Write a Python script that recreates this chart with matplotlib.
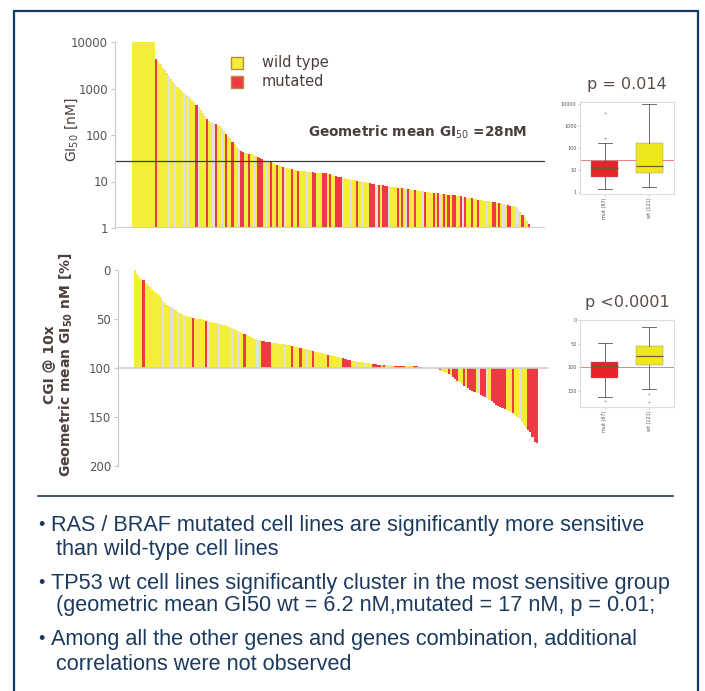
import matplotlib
matplotlib.use("Agg")
import matplotlib.pyplot as plt
from matplotlib.patches import Rectangle
import numpy as np

W, H = 705, 691

# GI50 [nM] per cell line, sorted (read from the waterfall)
gi50 = [10000, 10000, 10000, 10000, 10000, 10000, 10000, 10000, 10000, 10000, 10000,
        4300, 3900, 3300, 2800, 2500, 2200, 1900, 1600, 1400, 1250, 1100, 980, 880,
        800, 730, 680, 620, 560, 500, 440, 400, 350, 300, 260, 220, 200, 190, 180, 170,
        165, 160, 140, 120, 105, 95, 85, 72, 64, 56, 50, 45, 43, 42, 41, 40, 39, 37, 35,
        34, 32, 30, 29, 28, 27, 26, 25, 24, 23, 22.5, 22, 21, 20, 19.5, 19, 18.5, 18,
        17.5, 17.2, 17, 16.8, 16.6, 16.4, 16.2, 16.0, 15.8, 15.6, 15.4, 15.3, 15.2, 15.1,
        15.0, 14.6, 14.2, 13.8, 13.4, 13.0, 12.7, 12.4, 12.1, 11.8, 11.5, 11.3, 11.0, 10.8,
        10.6, 10.4, 10.2, 10.0, 9.8, 9.6, 9.4, 9.2, 9.0, 8.8, 8.6, 8.5, 8.4, 8.3, 8.1, 8.0,
        7.9, 7.8, 7.6, 7.5, 7.4, 7.3, 7.2, 7.1, 7.0, 6.9, 6.8, 6.7, 6.6, 6.5, 6.4, 6.3,
        6.2, 6.0, 5.95, 5.9, 5.8, 5.75, 5.7, 5.6, 5.5, 5.45, 5.4, 5.3, 5.25, 5.2, 5.1, 5.0,
        4.95, 4.9, 4.8, 4.7, 4.6, 4.5, 4.45, 4.4, 4.3, 4.2, 4.1, 4.0, 3.95, 3.9, 3.8, 3.75,
        3.7, 3.6, 3.55, 3.5, 3.45, 3.4, 3.3, 3.2, 3.1, 3.0, 2.95, 2.9, 2.8, 2.5, 2.2, 1.9,
        1.7, 1.4, 1.2]
gi50_mutated = [11, 30, 35, 39, 44, 47, 51, 52, 55, 59, 60, 61, 65, 68, 71, 75, 78, 85,
                86, 90, 91, 93, 96, 97, 98, 106, 112, 113, 114, 116, 118, 119, 120, 125,
                127, 130, 133, 138, 142, 144, 147, 149, 151, 152, 155, 157, 160, 163, 170,
                171, 173, 177, 178, 184, 187]
gi50_unknown = [17, 20, 24, 26, 31, 38, 42, 50, 57, 63, 72, 82, 99, 103, 108, 115, 121,
                129, 137, 145, 156, 167, 175, 181, 182]

# CGI @ 10x geometric mean GI50 [%]
cgi = [0, 4, 7, 9, 10, 13, 15, 17, 19, 21, 23, 25, 28, 32, 34, 36, 37, 38, 40, 41, 43,
       44, 45, 46, 47, 47.5, 48, 48.5, 49, 49.5, 50, 50.5, 51, 52, 52.5, 53,
       53.5, 54, 54.5, 55, 55.5, 56, 56.5, 57, 58, 59,
       60, 61, 62, 63, 64, 65, 66, 67, 68, 69, 70, 71,
       71.5, 72, 72.5, 73, 73, 73.5, 74, 74, 74.5, 75, 75,
       75.5, 76, 76.5, 77, 77.5, 78, 78.5, 79, 79.5, 80, 80.5, 81, 81.5, 82, 83,
       83.5, 84, 84.5, 85, 85.5, 86, 86.5, 87, 87.5, 88, 88.5, 89, 89.5, 90, 91, 92,
       92.3, 92.6, 93, 93.3, 93.6, 94, 94.3, 94.6, 95, 95.3, 95.6, 96, 96.3, 96.6, 97,
       97, 97.1, 97.2, 97.3, 97.4, 97.5, 97.6, 97.7, 97.8, 97.9, 98, 98, 98, 98, 98, 98,
       98.3, 98.6, 99, 99.2, 99.5, 99.8, 100, 100.2, 100.5, 101, 101.5, 102,
       103, 104, 105, 106, 107.5, 109,
       111, 113, 114, 116, 118, 119, 120, 122,
       123, 124, 125, 126, 127.5, 129,
       130, 131, 133, 134, 136, 137.5, 139,
       140, 141, 142, 143, 144, 145, 146,
       148, 150, 152, 155, 158,
       161, 163, 165, 170, 175, 177]
cgi_mutated = [4, 27, 33, 51, 59, 60, 61, 62, 63, 73, 77, 83, 90, 97, 98, 99, 100, 111,
               112, 113, 114, 116, 121, 122, 123, 124, 125, 130, 131, 132, 133, 142, 146,
               148, 149, 150, 153, 155, 156, 157, 158, 161, 162, 163, 166, 167, 168, 169,
               170, 171, 172, 176, 183, 184, 185, 186, 187]
cgi_unknown = [13, 17, 20, 23, 34, 39, 45, 48, 57, 70, 80, 103, 107, 118, 136, 141, 160,
               164, 179]

# box plot summaries: mut (67) / wt (121)
box_labels = ["mut (67)", "wt (121)"]
gi50_whislo = [1.3, 1.7]
gi50_q1 = [4.6, 7]
gi50_med = [12, 15]
gi50_q3 = [25, 180]
gi50_whishi = [180, 10000]
gi50_fliers = [[280, 4000], []]
cgi_whislo = [49, 15]
cgi_q1 = [89, 55]
cgi_med = [98, 77]
cgi_q3 = [123, 96]
cgi_whishi = [164, 147]
cgi_fliers = [[172], [157, 174]]

YELLOW = "#f4ed3a"
RED = "#ee3a44"
GREY = "#e0e0e0"
TXT = "#4a3f3a"
NAVY = "#1c3a5e"
AX = "#c8c8c8"


def fax(l, t, r, b):
    return fig.add_axes([l / W, 1 - b / H, (r - l) / W, (b - t) / H])


def bar_colors(n, mutated, unknown):
    cols = [YELLOW] * n
    for i in unknown:
        cols[i] = GREY
    for i in mutated:
        cols[i] = RED
    return cols


def style_axis(ax):
    for s in ["top", "right", "bottom"]:
        ax.spines[s].set_visible(False)
    ax.spines["left"].set_color(AX)
    ax.tick_params(axis="y", length=3, color=AX, labelsize=8.5, labelcolor="#555555", pad=2)
    ax.set_xticks([])
    ax.patch.set_alpha(0)


fig = plt.figure(figsize=(W / 100, H / 100), dpi=100)
fig.patch.set_facecolor("white")

# frame
fig.add_artist(Rectangle((14 / W, -0.02), (698 - 14) / W, 1 - 11 / H + 0.02,
                         transform=fig.transFigure, fill=False, edgecolor="#0e3a66", lw=1.6))

# --- top waterfall -------------------------------------------------------
ax1 = fax(115, 42, 545, 228)
n = len(gi50)
x = np.arange(n)
ax1.bar(x, gi50, width=1.0, color=bar_colors(n, gi50_mutated, gi50_unknown), lw=0)
ax1.set_yscale("log")
ax1.set_ylim(1, 10000)
ax1.set_xlim(-8.5, 194.6)
ax1.set_yticks([1, 10, 100, 1000, 10000])
ax1.set_yticklabels(["1", "10", "100", "1000", "10000"])
ax1.minorticks_off()
style_axis(ax1)
ax1.axhline(1, color="#cfcfcf", lw=1.5)
ax1.axhline(28, color="#3a3a3a", lw=0.9)
ax1.text(0.448, 0.49, "Geometric mean GI$_{50}$ =28nM", transform=ax1.transAxes,
         fontsize=9.8, fontweight="bold", color=TXT)
fig.text(72 / W, 1 - 130 / H, "GI$_{50}$ [nM]", rotation=90, ha="center", va="center",
         fontsize=10, color=TXT)

# legend squares
for yy, c, lab in [(63, YELLOW, "wild type"), (82, RED, "mutated")]:
    fig.add_artist(Rectangle((231 / W, 1 - (yy + 6) / H), 12 / W, 12 / H,
                             transform=fig.transFigure, facecolor=c,
                             edgecolor="#c08a3a", lw=1.0))
    fig.text(262 / W, 1 - yy / H, lab, ha="left", va="center", fontsize=10.5, color=TXT)

# --- bottom waterfall ----------------------------------------------------
ax2 = fax(118, 270, 548, 466)
n2 = len(cgi)
x2 = np.arange(n2)
heights = [v - 100 for v in cgi]
ax2.bar(x2, heights, bottom=100, width=1.0,
        color=bar_colors(n2, cgi_mutated, cgi_unknown), lw=0)
ax2.set_ylim(200, 0)
ax2.set_xlim(-7.9, 192.2)
ax2.set_yticks([0, 50, 100, 150, 200])
style_axis(ax2)
ax2.axhline(100, color="#cfcfcf", lw=1.2)
fig.text(50 / W, 1 - 365 / H, "CGI @ 10x", rotation=90, ha="center", va="center",
         fontsize=10, fontweight="bold", color=TXT)
fig.text(66 / W, 1 - 365 / H, "Geometric mean GI$_{\\mathbf{50}}$ nM [%]", rotation=90,
         ha="center", va="center", fontsize=10, fontweight="bold", color=TXT)


# --- box plot insets -----------------------------------------------------
def inset(box, whislo, q1, med, q3, whishi, fliers, title, log, ylim, ticks, ref):
    ax = fax(*box)
    stats = []
    for i in range(2):
        stats.append(dict(label=box_labels[i], whislo=whislo[i], q1=q1[i], med=med[i],
                          q3=q3[i], whishi=whishi[i], fliers=fliers[i]))
    bp = ax.bxp(stats, positions=[1, 2], widths=0.62, patch_artist=True,
                boxprops=dict(lw=0.3, edgecolor="#888888"),
                medianprops=dict(color="#6b5a2a", lw=0.9),
                whiskerprops=dict(color="#555555", lw=0.6),
                capprops=dict(color="#555555", lw=0.6),
                flierprops=dict(marker="o", markersize=1.2, markerfacecolor="#888888",
                                markeredgecolor="none"))
    bp["boxes"][0].set_facecolor("#e8222b")
    bp["boxes"][1].set_facecolor("#efe71e")
    if log:
        ax.set_yscale("log")
    ax.set_ylim(*ylim)
    ax.set_yticks(ticks)
    ax.set_yticklabels([str(t) for t in ticks])
    ax.minorticks_off()
    ax.set_xlim(0.45, 2.55)
    ax.axhline(ref, color="#f08080", lw=0.7, zorder=0.5)
    for s in ax.spines.values():
        s.set_color("#dddddd")
        s.set_linewidth(0.8)
    ax.tick_params(axis="y", labelsize=3.5, length=1.5, pad=1, color="#cccccc",
                   labelcolor="#555555")
    ax.tick_params(axis="x", labelsize=3.5, length=1.5, pad=1, rotation=90, color="#cccccc",
                   labelcolor="#555555")
    fig.text((box[0] + box[2]) / 2 / W, 1 - (box[1] - 17) / H, title, ha="center",
             va="center", fontsize=11.5, color="#5a4d47")
    return ax


inset((580, 102, 674, 194), gi50_whislo, gi50_q1, gi50_med, gi50_q3, gi50_whishi,
      gi50_fliers, "p = 0.014", True, (0.8, 13000), [1, 10, 100, 1000, 10000], 28)
inset((580, 320, 674, 407), cgi_whislo, cgi_q1, cgi_med, cgi_q3, cgi_whishi,
      cgi_fliers, "p <0.0001", False, (185, 0), [0, 50, 100, 150], 100)

# --- notes ---------------------------------------------------------------
fig.add_artist(plt.Line2D([38 / W, 673 / W], [1 - 496 / H, 1 - 496 / H],
                          transform=fig.transFigure, color=NAVY, lw=1.2))
notes = [(525, True, "RAS / BRAF mutated cell lines are significantly more sensitive"),
         (549, False, "than wild-type cell lines"),
         (583, True, "TP53 wt cell lines significantly cluster in the most sensitive group"),
         (606, False, "(geometric mean GI50 wt = 6.2 nM,mutated = 17 nM, p = 0.01;"),
         (640, True, "Among all the other genes and genes combination, additional"),
         (665, False, "correlations were not observed")]
for yy, bullet, t in notes:
    if bullet:
        fig.text(38 / W, 1 - yy / H, "\u2022", ha="left", va="center", fontsize=13,
                 family="Liberation Sans", color=NAVY)
    fig.text((51 if bullet else 56) / W, 1 - yy / H, t, ha="left", va="center",
             fontsize=15.6, family="Liberation Sans", color=NAVY)

fig.savefig("out.png", dpi=100)
